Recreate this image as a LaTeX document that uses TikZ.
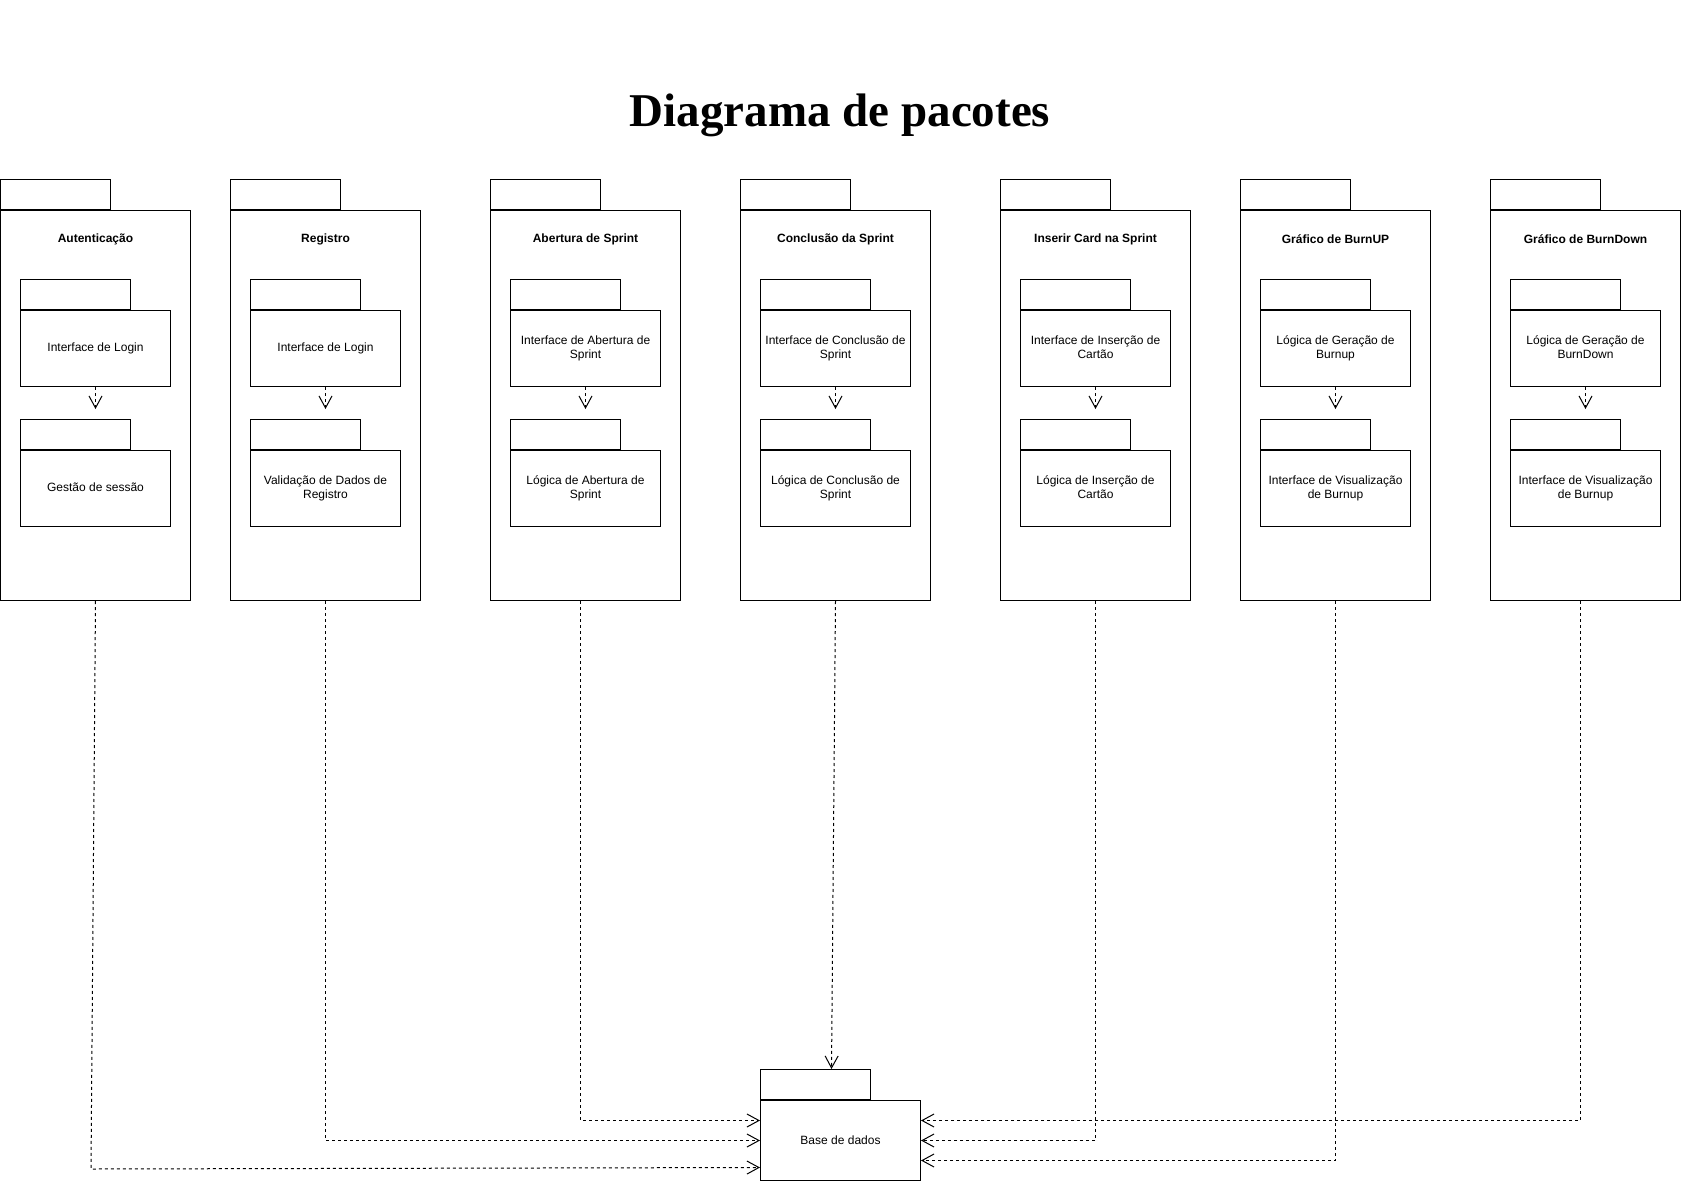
\documentclass[tikz,border=0pt]{standalone}
\usepackage{fontspec}
\setmainfont{Liberation Sans}
\newfontfamily\titlefont{Liberation Serif}
\usetikzlibrary{arrows.meta}
\hyphenpenalty=10000
\begin{document}
\begin{tikzpicture}[x=1pt,y=-1pt,
        box/.style={shape=rectangle,draw=black,line width=1pt,inner sep=0pt,anchor=north west},
        tab/.style={shape=rectangle,draw=black,line width=1pt,inner sep=0pt,anchor=south west,minimum width=110pt,minimum height=30pt},
        outer/.style={box,minimum width=190pt,minimum height=390pt},
        inner/.style={box,minimum width=150pt,minimum height=76pt,text width=142pt,align=flush center,font=\fontsize{12}{14}\selectfont},
        pkgname/.style={font=\bfseries\fontsize{12}{14}\selectfont},
        dep/.style={line width=1pt,dash pattern=on 3pt off 3pt,-{Straight Barb[length=12pt,width=13pt]}}]
        \useasboundingbox (0,0) rectangle (1681,1185);
        \node[anchor=base] (title) at (840,127) {\titlefont\bfseries\fontsize{47}{56}\selectfont Diagrama de pacotes};
        % pacotes
        \foreach \nm/\px/\lbl/\pa/\pb in {aut/0/Autenticação/Interface de Login/Gestão de sessão,
                reg/230/Registro/Interface de Login/Validação de Dados de Registro,
                abe/490/Abertura de Sprint/Interface de Abertura de Sprint/Lógica de Abertura de Sprint,
                con/740/Conclusão da Sprint/Interface de Conclusão de Sprint/Lógica de Conclusão de Sprint,
                ins/1000/Inserir Card na Sprint/Interface de Inserção de Cartão/Lógica de Inserção de Cartão,
                bup/1240/Gráfico de BurnUP/Lógica de Geração de Burnup/Interface de Visualização de Burnup,
                bdn/1490/Gráfico de BurnDown/Lógica de Geração de BurnDown/Interface de Visualização de Burnup}{
            \node[outer] (\nm) at (\px,210) {};
            \node[tab] (\nm-tab) at (\nm.north west) {};
            \node[pkgname] (\nm-name) at ([yshift=-29pt]\nm.north) {\lbl};
            \node[inner] (\nm-a) at ([xshift=20pt,yshift=-100pt]\nm.north west) {\strut\pa\strut};
            \node[tab] (\nm-atab) at (\nm-a.north west) {};
            \node[inner] (\nm-b) at ([xshift=20pt,yshift=-240pt]\nm.north west) {\strut\pb\strut};
            \node[tab] (\nm-btab) at (\nm-b.north west) {};
            \draw[dep] (\nm-a.south) -- ([yshift=41pt]\nm-b.north);
        }
        \node[box,minimum width=160pt,minimum height=80pt,font=\fontsize{12}{14}\selectfont] (base) at (760,1100) {Base de dados};
        \node[tab] (base-tab) at (base.north west) {};
        % dependencias
        \coordinate (aut-bend) at (91,1169);
        \draw[dep] (aut.south) -- (aut-bend) -- ([yshift=-27pt]base.west);
        \draw[dep] (reg.south) |- (base.west);
        \draw[dep] ([xshift=-5pt]abe.south) |- ([yshift=20pt]base.west);
        \draw[dep] (con.south) -- ([xshift=16pt]base-tab.north);
        \draw[dep] (ins.south) |- (base.east);
        \draw[dep] (bup.south) |- ([yshift=-20pt]base.east);
        \draw[dep] ([xshift=-5pt]bdn.south) |- ([yshift=20pt]base.east);
\end{tikzpicture}
\end{document}
